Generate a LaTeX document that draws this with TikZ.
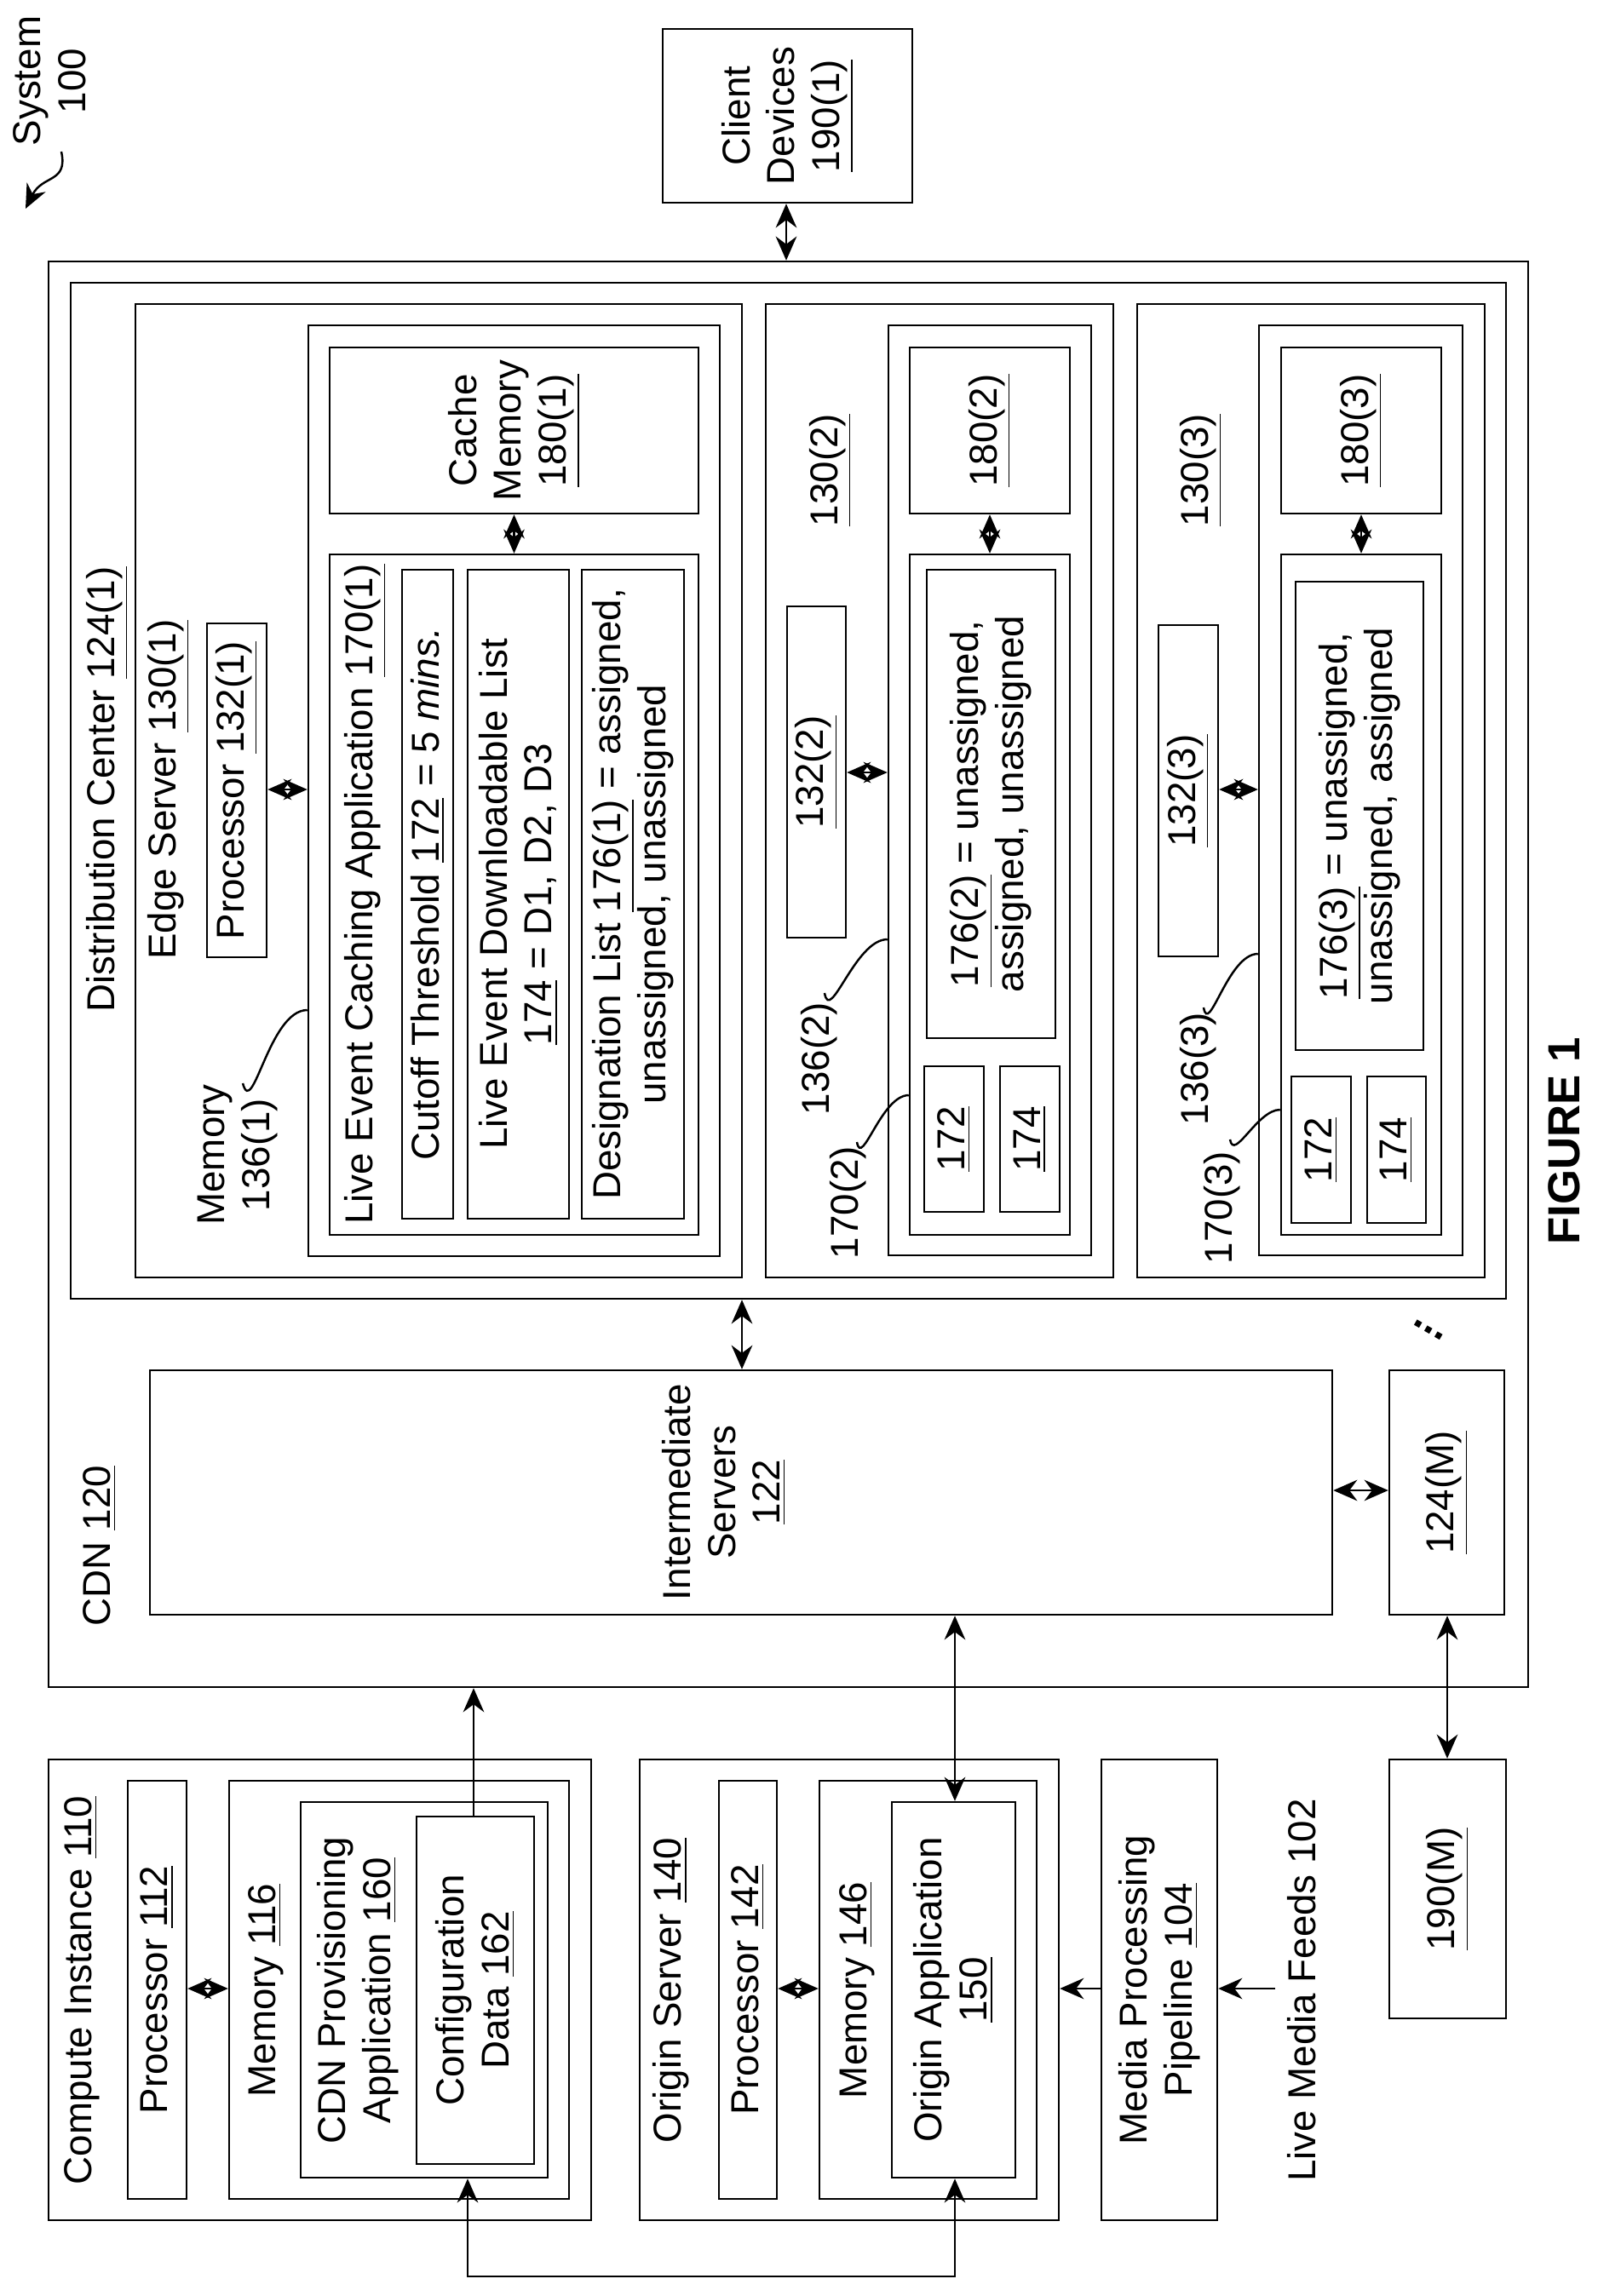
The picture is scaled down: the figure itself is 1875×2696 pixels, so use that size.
\documentclass[tikz,border=0pt]{standalone}
\usepackage{fontspec}
\setmainfont{Liberation Sans}
\usetikzlibrary{fit, arrows.meta}

\tikzset{
  box/.style={draw, rectangle, inner sep=0pt, line width=0.7pt},
  lbl/.style={rotate=90, align=center, inner sep=1pt},
  link/.style={line width=0.7pt, {Stealth[length=8pt,width=7pt]}-{Stealth[length=8pt,width=7pt]}},
  feed/.style={line width=0.7pt, -{Stealth[length=8pt,width=7pt]}},
  lead/.style={line width=0.7pt}
}

\begin{document}
\begin{tikzpicture}[x=0.01cm, y=-0.01cm, font=\fontsize{13}{15}\selectfont]
\useasboundingbox (0,0) rectangle (1875,2696);

% system tag
\node[lbl] (sys) at (58,95) {System\\100};
\coordinate (sysa) at (72,178);
\coordinate (sysb) at (30,245);
\draw[feed] (sysa) .. controls (80,215) and (50,205) .. (sysb);

% client devices
\node[box, fit={(778,34) (1071,238)}] (cd1) {};
\node[lbl] at (cd1.center) {Client\\Devices\\\underline{190(1)}};

% CDN
\node[box, fit={(57,307) (1794,1981)}] (cdn) {};
\node[lbl] at (117,1815) {CDN \underline{120}};
\node[box, fit={(83,332) (1768,1525)}] (dc1) {};
\node[lbl] at (126,927) {Distribution Center \underline{124(1)}};

% edge server 1
\node[box, fit={(159,357) (871,1500)}] (es1) {};
\node[lbl] at (198,927) {Edge Server \underline{130(1)}};
\node[box, fit={(243,732) (313,1124)}] (p1) {};
\node[lbl] at (p1.center) {Processor \underline{132(1)}};
\node[box, fit={(362,382) (845,1475)}] (m1) {};
\node[lbl] (m1l) at (279,1356) {Memory\\136(1)};
\node[box, fit={(387,408) (820,603)}] (c1) {};
\node[lbl] at (c1.center) {Cache\\Memory\\\underline{180(1)}};
\node[box, fit={(387,651) (820,1450)}] (a1) {};
\node[lbl] at (429,1050) {Live Event Caching Application \underline{170(1)}};
\node[box, fit={(472,669) (532,1431)}] (t1) {};
\node[lbl] at (t1.center) {Cutoff Threshold \underline{172} = 5 \textit{mins.}};
\node[box, fit={(549,669) (668,1431)}] (d1) {};
\node[lbl] at (d1.center) {Live Event Downloadable List\\\underline{174} = D1, D2, D3};
\node[box, fit={(683,669) (803,1431)}] (g1) {};
\node[lbl] at (g1.center) {Designation List \underline{176(1)} = assigned,\\unassigned, unassigned};
\draw[link] (p1.east |- 0,927) -- (m1.west |- 0,927);
\draw[link] (c1.south) -- (a1.north);
\draw[lead] (285,1272) to[out=-75, in=180] (m1.west |- 0,1186);

% edge server 2
\node[box, fit={(899,357) (1307,1500)}] (es2) {};
\node[lbl] at (975,552) {\underline{130(2)}};
\node[box, fit={(924,712) (993,1101)}] (p2) {};
\node[lbl] at (p2.center) {\underline{132(2)}};
\node[box, fit={(1043,382) (1281,1474)}] (m2) {};
\node[box, fit={(1068,408) (1256,603)}] (c2) {};
\node[lbl] at (c2.center) {\underline{180(2)}};
\node[box, fit={(1068,651) (1256,1450)}] (a2) {};
\node[box, fit={(1088,669) (1239,1219)}] (g2) {};
\node[lbl] at (g2.center) {\underline{176(2)} = unassigned,\\assigned, unassigned};
\node[box, fit={(1085,1252) (1155,1423)}] (t2) {};
\node[lbl] at (t2.center) {\underline{172}};
\node[box, fit={(1174,1252) (1244,1423)}] (d2) {};
\node[lbl] at (d2.center) {\underline{174}};
\node[lbl] at (962,1243) {136(2)};
\node[lbl] at (996,1412) {170(2)};
\draw[link] (p2.east |- 0,907) -- (m2.west |- 0,907);
\draw[link] (c2.south) -- (a2.north);
\draw[lead] (968,1166) to[out=-80, in=180] (m2.west |- 0,1103);
\draw[lead] (1006,1341) to[out=-80, in=180] (a2.west |- 0,1286);

% edge server 3
\node[box, fit={(1335,357) (1743,1500)}] (es3) {};
\node[lbl] at (1410,552) {\underline{130(3)}};
\node[box, fit={(1360,734) (1430,1123)}] (p3) {};
\node[lbl] at (p3.center) {\underline{132(3)}};
\node[box, fit={(1478,382) (1717,1474)}] (m3) {};
\node[box, fit={(1504,408) (1692,603)}] (c3) {};
\node[lbl] at (c3.center) {\underline{180(3)}};
\node[box, fit={(1504,651) (1692,1450)}] (a3) {};
\node[box, fit={(1521,683) (1671,1233)}] (g3) {};
\node[lbl] at (g3.center) {\underline{176(3)} = unassigned,\\unassigned, assigned};
\node[box, fit={(1516,1264) (1586,1436)}] (t3) {};
\node[lbl] at (t3.center) {\underline{172}};
\node[box, fit={(1605,1264) (1674,1436)}] (d3) {};
\node[lbl] at (d3.center) {\underline{174}};
\node[lbl] at (1407,1255) {136(3)};
\node[lbl] at (1435,1418) {170(3)};
\draw[link] (p3.east |- 0,927) -- (m3.west |- 0,927);
\draw[link] (c3.south) -- (a3.north);
\draw[lead] (1413,1183) to[out=-80, in=180] (m3.west |- 0,1120);
\draw[lead] (1444,1338) to[out=-80, in=180] (a3.west |- 0,1303);

% intermediate servers and other centers
\node[box, fit={(176,1609) (1564,1896)}] (is) {};
\node[lbl] at (850,1752) {Intermediate\\Servers\\\underline{122}};
\node[box, fit={(1631,1609) (1766,1896)}] (dcm) {};
\node[lbl] at (dcm.center) {\underline{124(M)}};
\node[rotate=-30, font=\fontsize{14}{14}\selectfont\bfseries] at (1677,1562) {...};
\draw[link] (dc1.south -| 871,0) -- (is.north -| 871,0);
\draw[link] (is.east |- 0,1750) -- (dcm.west |- 0,1750);
\draw[link] (cd1.south -| 923,0) -- (cdn.north -| 923,0);

% compute instance
\node[box, fit={(57,2066) (694,2607)}] (ci) {};
\node[lbl] at (96,2337) {Compute Instance \underline{110}};
\node[box, fit={(150,2091) (219,2582)}] (p112) {};
\node[lbl] at (p112.center) {Processor \underline{112}};
\node[box, fit={(269,2091) (668,2582)}] (m116) {};
\node[lbl] at (312,2337) {Memory \underline{116}};
\node[box, fit={(353,2116) (643,2557)}] (prov) {};
\node[lbl] at (420,2337) {CDN Provisioning\\Application \underline{160}};
\node[box, fit={(489,2133) (627,2541)}] (cfg) {};
\node[lbl] at (cfg.center) {Configuration\\Data \underline{162}};
\draw[link] (p112.east |- 0,2335) -- (m116.west |- 0,2335);
\draw[feed] (cfg.north -| 556,0) -- (cdn.south -| 556,0);

% origin server
\node[box, fit={(751,2066) (1243,2607)}] (os) {};
\node[lbl] at (788,2337) {Origin Server \underline{140}};
\node[box, fit={(844,2091) (912,2582)}] (p142) {};
\node[lbl] at (p142.center) {Processor \underline{142}};
\node[box, fit={(962,2091) (1217,2582)}] (m146) {};
\node[lbl] at (1006,2337) {Memory \underline{146}};
\node[box, fit={(1047,2116) (1192,2557)}] (oa) {};
\node[lbl] at (oa.center) {Origin Application\\\underline{150}};
\draw[link] (p142.east |- 0,2335) -- (m146.west |- 0,2335);
\draw[link] (is.south -| 1121,0) -- (oa.north -| 1121,0);
\coordinate (lb) at (549,2673);
\coordinate (rb) at (1121,2673);
\draw[link] (prov.south -| lb) -- (lb) -- (rb) -- (oa.south -| rb);

% media pipeline and feeds
\node[box, fit={(1293,2066) (1429,2607)}] (mp) {};
\node[lbl] at (mp.center) {Media Processing\\Pipeline \underline{104}};
\node[lbl] (feeds) at (1528,2337) {Live Media Feeds 102};
\draw[feed] (mp.west |- 0,2335) -- (os.east |- 0,2335);
\draw[feed] (1497,2335) -- (mp.east |- 0,2335);

% client devices M
\node[box, fit={(1631,2066) (1768,2370)}] (cdm) {};
\node[lbl] at (cdm.center) {\underline{190(M)}};
\draw[link] (dcm.south -| 1699,0) -- (cdm.north -| 1699,0);

\node[rotate=90, font=\fontsize{15}{15}\selectfont\bfseries] at (1836,1340) {FIGURE 1};
\end{tikzpicture}
\end{document}
